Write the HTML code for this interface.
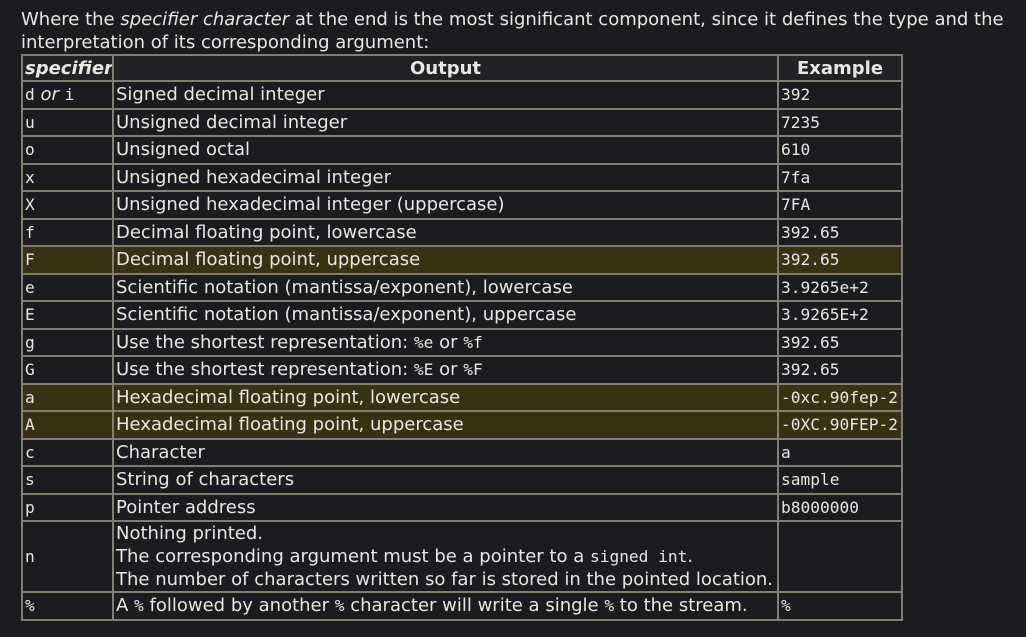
<!DOCTYPE html>
<html><head><meta charset="utf-8"><style>
html,body{margin:0;padding:0;background:#1b1c1f;width:1026px;height:637px;overflow:hidden}
body{font-family:"DejaVu Sans","Liberation Sans",sans-serif;color:#e8e6e3;font-size:18px}
p{position:absolute;left:21px;top:8px;margin:0;line-height:23px;width:1005px}
table{position:absolute;left:21px;top:54px;border-collapse:collapse;table-layout:fixed;width:880px}
td,th{border:2px solid #857d71;padding:0 2px;height:25.5px;line-height:23px;white-space:nowrap;overflow:hidden;vertical-align:middle}
th{background:#202226;font-weight:bold;height:24px}
td.m,.m{font-family:"DejaVu Sans Mono","Liberation Mono",monospace;font-size:16.2px}
tr.h td{background:#373312}
.n td{height:68px;line-height:23px}
</style></head><body>
<p>Where the <i>specifier character</i> at the end is the most significant component, since it defines the type and the interpretation of its corresponding argument:</p>
<table>
<colgroup><col style="width:91px"><col style="width:665px"><col style="width:124px"></colgroup>
<tr><th style="text-align:left"><i>specifier</i></th><th>Output</th><th>Example</th></tr>
<tr><td><span class="m">d</span> <i>or</i> <span class="m">i</span></td><td>Signed decimal integer</td><td class="m">392</td></tr>
<tr><td class="m">u</td><td>Unsigned decimal integer</td><td class="m">7235</td></tr>
<tr><td class="m">o</td><td>Unsigned octal</td><td class="m">610</td></tr>
<tr><td class="m">x</td><td>Unsigned hexadecimal integer</td><td class="m">7fa</td></tr>
<tr><td class="m">X</td><td>Unsigned hexadecimal integer (uppercase)</td><td class="m">7FA</td></tr>
<tr><td class="m">f</td><td>Decimal floating point, lowercase</td><td class="m">392.65</td></tr>
<tr class="h"><td class="m">F</td><td>Decimal floating point, uppercase</td><td class="m">392.65</td></tr>
<tr><td class="m">e</td><td>Scientific notation (mantissa/exponent), lowercase</td><td class="m">3.9265e+2</td></tr>
<tr><td class="m">E</td><td>Scientific notation (mantissa/exponent), uppercase</td><td class="m">3.9265E+2</td></tr>
<tr><td class="m">g</td><td>Use the shortest representation: <span class="m">%e</span> or <span class="m">%f</span></td><td class="m">392.65</td></tr>
<tr><td class="m">G</td><td>Use the shortest representation: <span class="m">%E</span> or <span class="m">%F</span></td><td class="m">392.65</td></tr>
<tr class="h"><td class="m">a</td><td>Hexadecimal floating point, lowercase</td><td class="m">-0xc.90fep-2</td></tr>
<tr class="h"><td class="m">A</td><td>Hexadecimal floating point, uppercase</td><td class="m">-0XC.90FEP-2</td></tr>
<tr><td class="m">c</td><td>Character</td><td class="m">a</td></tr>
<tr><td class="m">s</td><td>String of characters</td><td class="m">sample</td></tr>
<tr><td class="m">p</td><td>Pointer address</td><td class="m">b8000000</td></tr>
<tr class="n"><td class="m">n</td><td>Nothing printed.<br>The corresponding argument must be a pointer to a <span class="m">signed int</span>.<br>The number of characters written so far is stored in the pointed location.</td><td></td></tr>
<tr><td class="m">%</td><td>A <span class="m">%</span> followed by another <span class="m">%</span> character will write a single <span class="m">%</span> to the stream.</td><td class="m">%</td></tr>
</table>
</body></html>
